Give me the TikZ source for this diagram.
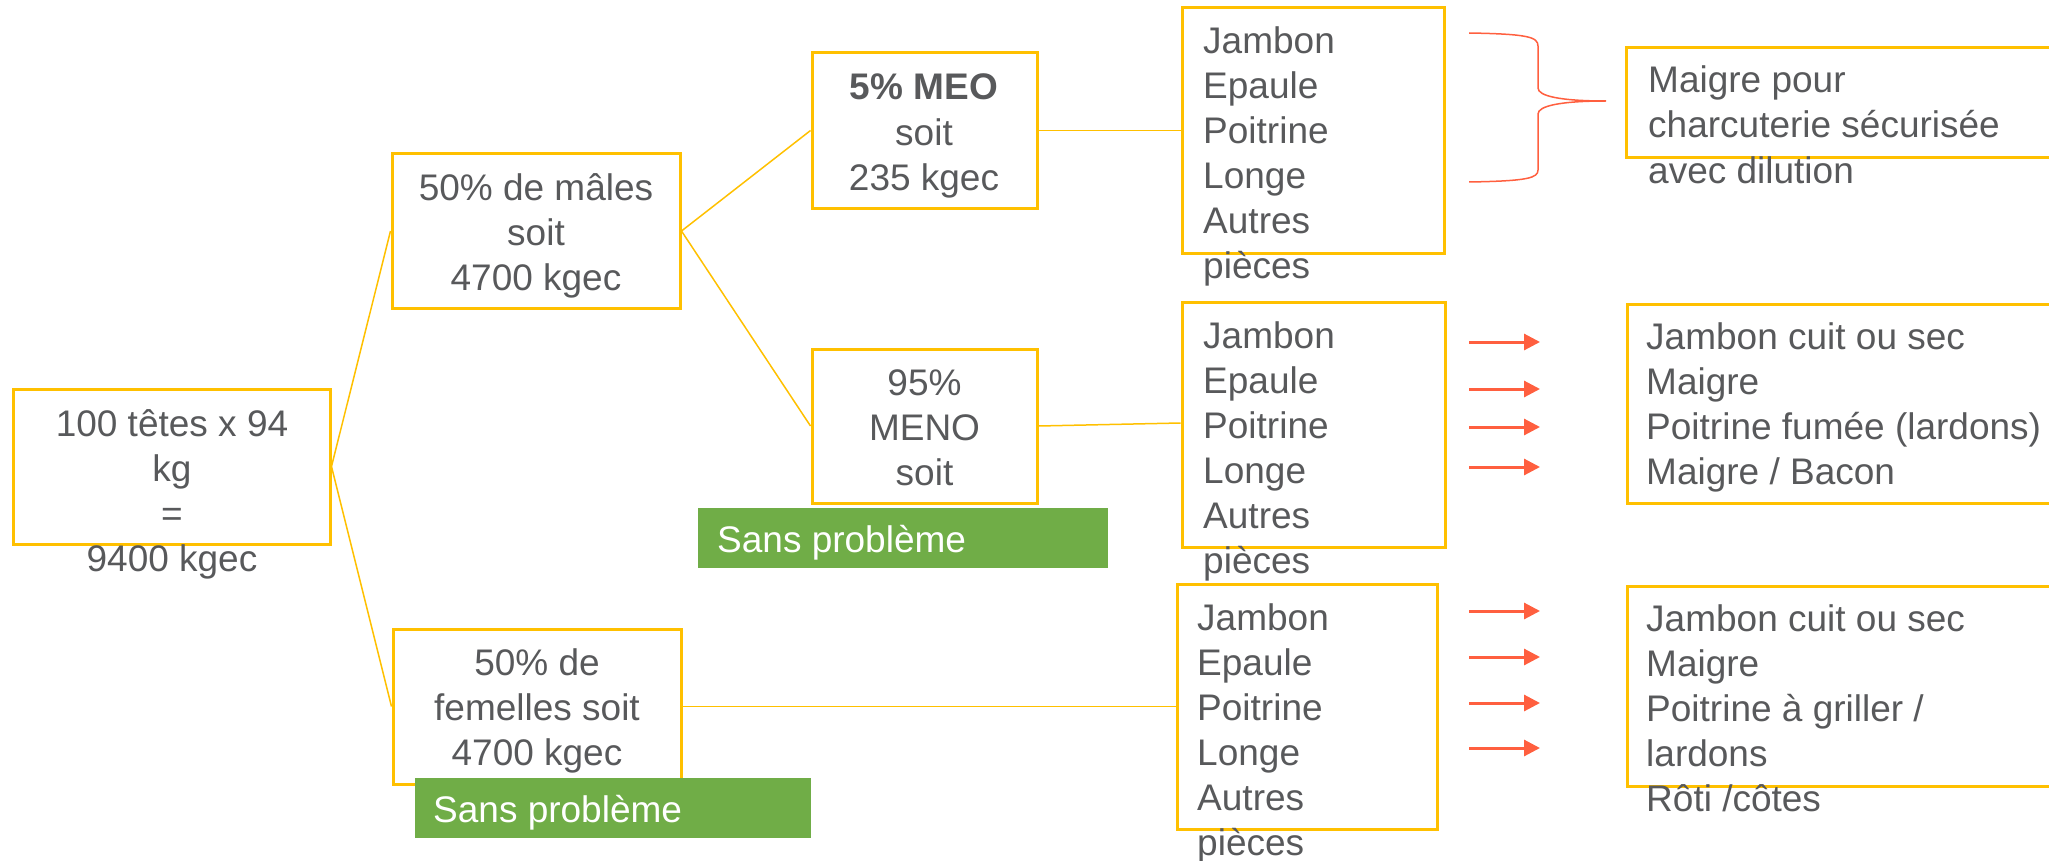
\documentclass[tikz,border=0pt]{standalone}
\usepackage{fontspec}
\setmainfont{Liberation Sans}
\usetikzlibrary{arrows.meta}
\definecolor{gold}{HTML}{FFC000}
\definecolor{txtgrey}{HTML}{58595B}
\definecolor{leafgreen}{HTML}{70AD47}
\definecolor{arrowred}{HTML}{FF5F3F}
\begin{document}
\begin{tikzpicture}[x=1pt,y=-1pt,
  box/.style={draw=gold, line width=3pt, rectangle, inner sep=0pt},
  conn/.style={draw=gold, line width=1.5pt},
  txt/.style={text=txtgrey, font=\fontsize{37}{45}\selectfont, inner sep=0pt},
  ctxt/.style={txt, align=center, anchor=base},
  ltxt/.style={txt, align=left, anchor=base west},
  greenbox/.style={fill=leafgreen, draw=none, rectangle, inner sep=0pt},
  gtxt/.style={text=white, font=\fontsize{37}{45}\selectfont, inner sep=0pt, anchor=base west},
  redarrow/.style={draw=arrowred, line width=3pt, -{Triangle[length=16pt,width=16pt]}},
  brace/.style={draw=arrowred, line width=1.5pt}
]
\useasboundingbox (0,0) rectangle (2049,861);

% boxes
\node[box, minimum width=317pt, minimum height=155pt] (A) at (171.5,466.5) {};
\node[box, minimum width=288pt, minimum height=154pt] (B) at (536,231) {};
\node[box, minimum width=225pt, minimum height=155pt] (C) at (924.5,130.5) {};
\node[box, minimum width=225pt, minimum height=154pt] (D) at (924.5,426) {};
\node[box, minimum width=288pt, minimum height=155pt] (G) at (537,706.5) {};
\node[box, minimum width=262pt, minimum height=245pt] (E1) at (1313,130.5) {};
\node[box, minimum width=263pt, minimum height=245pt] (E2) at (1313.5,424.5) {};
\node[box, minimum width=260pt, minimum height=245pt] (E3) at (1307,706.5) {};
\node[box, minimum width=444pt, minimum height=110pt] (F1) at (1848,103) {};
\node[box, minimum width=443pt, minimum height=199pt] (F2) at (1848.5,403.5) {};
\node[box, minimum width=443pt, minimum height=200pt] (F3) at (1848.5,686) {};

% connectors
\draw[conn] (A.east) -- (B.west);
\draw[conn] (A.east) -- (G.west);
\draw[conn] (B.east) -- (C.west);
\draw[conn] (B.east) -- (D.west);
\draw[conn] (C.east) -- (E1.west);
\draw[conn] (D.east) -- ([yshift=1.5pt]E2.west);
\draw[conn] (G.east) -- (E3.west);

% texts (anchor = baseline of the last line)
\node[ctxt] (tA) at (172,571) {100 têtes x 94\\kg\\=\\9400 kgec};
\node[ctxt] (tB) at (536,290) {50\% de mâles\\ soit\\4700 kgec};
\node[ctxt] (tC) at (924,190) {\textbf{5\% MEO}\\soit\\235 kgec};
\node[ctxt] (tD) at (924.5,485) {95\%\\MENO\\soit};
\node[ctxt] (tG) at (537,765) {50\% de\\femelles soit\\4700 kgec};
\node[ltxt] (tE1) at (1203,278) {Jambon\\Epaule\\Poitrine\\Longe\\Autres\\pièces};
\node[ltxt] (tE2) at (1203,573) {Jambon\\Epaule\\Poitrine\\Longe\\Autres\\pièces};
\node[ltxt] (tE3) at (1197,855) {Jambon\\Epaule\\Poitrine\\Longe\\Autres\\pièces};
\node[ltxt] (tF1) at (1648,183) {Maigre pour\\charcuterie sécurisée\\avec dilution};
\node[ltxt] (tF2) at (1646,484) {Jambon cuit ou sec\\Maigre\\Poitrine fumée (lardons)\\Maigre / Bacon};
\node[ltxt] (tF3) at (1646,811) {Jambon cuit ou sec\\Maigre\\Poitrine à griller /\\lardons\\Rôti /côtes};

% green labels
\node[greenbox, minimum width=410pt, minimum height=60pt] (S1) at (903,538) {};
\node[gtxt] (tS1) at (717,552) {Sans problème};
\node[greenbox, minimum width=396pt, minimum height=60pt] (S2) at (613,808) {};
\node[gtxt] (tS2) at (433,822) {Sans problème};

% red arrows
\foreach \i/\y in {1/342,2/389,3/427,4/467,5/611,6/657,7/703,8/748}{
  \coordinate (as\i) at (1469,\y);
  \coordinate (ae\i) at (1540,\y);
  \draw[redarrow] (as\i) -- (ae\i);
}

% brace
\coordinate (btop) at (1469,33);
\coordinate (btip) at (1606,101);
\coordinate (bbot) at (1469,182);
\draw[brace] (btop) .. controls (1528,34) and (1538,37) .. (1538,46)
  -- (1538,88) .. controls (1538,96) and (1560,101) .. (btip)
  .. controls (1560,101) and (1538,106) .. (1538,114)
  -- (1538,170) .. controls (1538,178) and (1528,181) .. (bbot);
\end{tikzpicture}
\end{document}
